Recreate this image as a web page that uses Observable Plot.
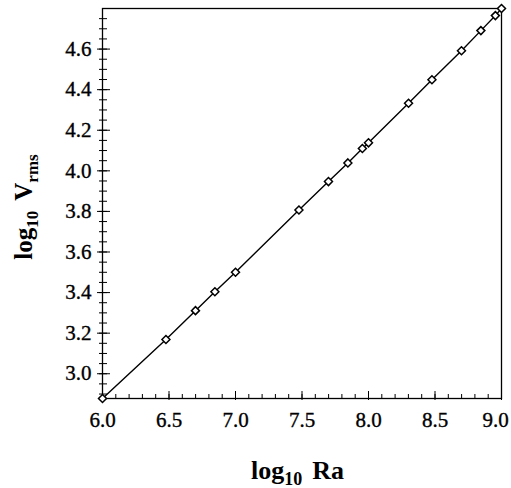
<!DOCTYPE html>
<html>
<head>
<meta charset="utf-8">
<script src="https://cdn.jsdelivr.net/npm/d3@7"></script>
<script src="https://cdn.jsdelivr.net/npm/@observablehq/plot@0.6"></script>
<style>
  html, body { margin: 0; padding: 0; background: #fff; }
  svg { display: block; }
</style>
</head>
<body>
<div id="chart"></div>
<script>
// log10 Ra values
const logRa = [6.0, 6.477, 6.699, 6.845, 7.0, 7.477, 7.699, 7.845, 7.954, 8.0, 8.301, 8.477, 8.699, 8.845, 8.954, 9.0];
// log10 Vrms values
const logVrms = [2.878, 3.169, 3.311, 3.404, 3.500, 3.807, 3.947, 4.039, 4.110, 4.138, 4.333, 4.449, 4.592, 4.691, 4.765, 4.800];

const xMajorTicks = [6.0, 6.5, 7.0, 7.5, 8.0, 8.5, 9.0];
const xLabelTicks = [6.0, 6.5, 7.0, 7.5, 8.0, 8.5];
const xLastLabel = [9.0];
const xMinorTicks = d3.range(61, 90).map(v => v / 10);
const yMajorTicks = [3.0, 3.2, 3.4, 3.6, 3.8, 4.0, 4.2, 4.4, 4.6];
const yMinorTicks = d3.range(58, 96).map(v => v / 20);

const xDomain = [6.0, 9.0];
const yDomain = [2.878, 4.8];

const data = logRa.map((x, i) => ({x, y: logVrms[i]}));

const font = "'Liberation Serif', 'Times New Roman', serif";
const fmt = d3.format(".1f");

const plot = Plot.plot({
  width: 511,
  height: 488,
  marginLeft: 102,
  marginRight: 10,
  marginTop: 8,
  marginBottom: 90,
  style: {fontFamily: font, fontSize: "21px", color: "#000", background: "#fff"},
  x: {domain: xDomain},
  y: {domain: yDomain},
  marks: [
    Plot.axisX({ticks: xMinorTicks, tickSize: 4, dy: -4, text: null, label: null, strokeWidth: 1}),
    Plot.axisX({ticks: xMajorTicks, tickSize: 9, dy: -7, text: null, label: null, strokeWidth: 1}),
    Plot.axisX({ticks: xLabelTicks, tickSize: 0, tickPadding: 14, tickFormat: fmt, label: null, fontSize: 21}),
    Plot.axisX({ticks: xLastLabel, tickSize: 0, tickPadding: 14, dx: -6, tickFormat: fmt, label: null, fontSize: 21}),
    Plot.axisY({ticks: yMinorTicks, tickSize: 8, dx: 5, text: null, label: null, strokeWidth: 1}),
    Plot.axisY({ticks: yMajorTicks, tickSize: 13, dx: 8, text: null, label: null, strokeWidth: 1}),
    Plot.axisY({ticks: yMajorTicks, tickSize: 0, tickPadding: 11, tickFormat: fmt, label: null, fontSize: 21}),
    Plot.frame({stroke: "#000", strokeWidth: 1.3}),
    Plot.line(data, {x: "x", y: "y", stroke: "#000", strokeWidth: 1.4}),
    Plot.dot(data, {x: "x", y: "y", symbol: "diamond2", r: 3.6, stroke: "#000", strokeWidth: 1.5, fill: "#fff"})
  ]
});

const xs = plot.scale("x"), ys = plot.scale("y");
const svg = d3.select(plot);

svg.selectAll("text")
  .style("font-family", font)
  .style("font-size", "21px")
  .style("fill", "#000")
  .style("stroke", "#000")
  .style("stroke-width", "0.35px");

const cx = (xs.apply(xDomain[0]) + xs.apply(xDomain[1])) / 2;
const cy = (ys.apply(yDomain[0]) + ys.apply(yDomain[1])) / 2;

// x axis title
const xt = svg.append("text")
  .attr("x", cx - 4).attr("y", 479)
  .attr("text-anchor", "middle")
  .attr("font-family", font).attr("font-weight", "bold").attr("font-size", 26).attr("fill", "#000");
xt.append("tspan").text("log");
xt.append("tspan").attr("font-size", 18).attr("dy", 6).text("10");
xt.append("tspan").attr("dy", -6).attr("dx", 10).text("Ra");

// y axis title
const yt = svg.append("text")
  .attr("transform", `translate(32,${cy + 4}) rotate(-90)`)
  .attr("text-anchor", "middle")
  .attr("font-family", font).attr("font-weight", "bold").attr("font-size", 25).attr("fill", "#000");
yt.append("tspan").text("log");
yt.append("tspan").attr("font-size", 17).attr("dy", 6).text("10");
yt.append("tspan").attr("dy", -6).attr("dx", 10).text("V");
yt.append("tspan").attr("font-size", 17).attr("dy", 6).text("rms");

document.getElementById("chart").appendChild(plot);
</script>
</body>
</html>
